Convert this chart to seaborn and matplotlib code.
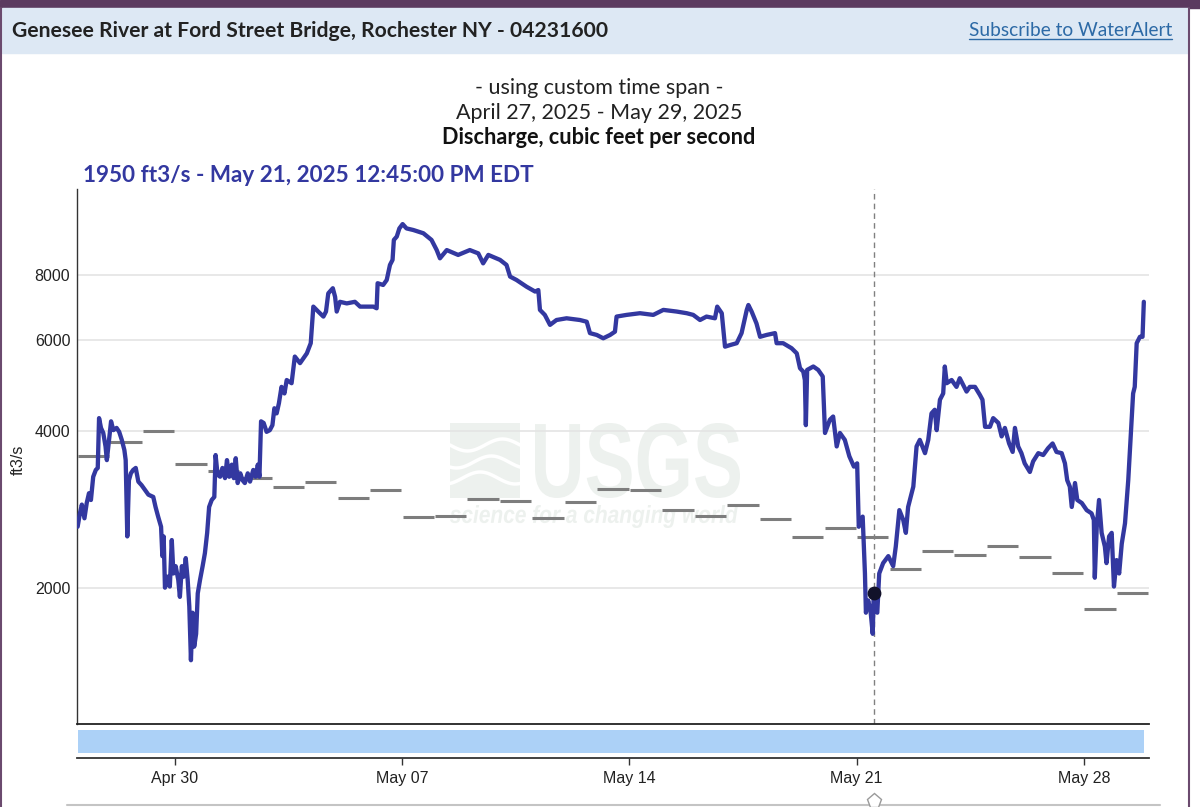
import numpy as np
import pandas as pd
import matplotlib
matplotlib.use("Agg")
import matplotlib.pyplot as plt
import matplotlib.dates as mdates
from matplotlib.patches import Rectangle, PathPatch
from matplotlib.lines import Line2D
from matplotlib.textpath import TextPath
from matplotlib.font_manager import FontProperties
from matplotlib.transforms import Affine2D, IdentityTransform
import seaborn as sns

# --- data ---
start = pd.Timestamp("2025-04-27 00:00")
end = pd.Timestamp("2025-05-30 00:00")

# instantaneous discharge: days after Apr 27 00:00 EDT, ft3/s
flow_days = [0.01, 0.08, 0.14, 0.22, 0.29, 0.36, 0.42, 0.49, 0.57, 0.63, 0.67, 0.73, 0.80, 0.87, 0.91, 0.95,
             1.04, 1.11, 1.21, 1.29, 1.37, 1.45, 1.49, 1.54, 1.59, 1.65, 1.72, 1.80, 1.88, 1.98,
             2.09, 2.19, 2.34, 2.41, 2.49, 2.58, 2.62, 2.66, 2.70, 2.78, 2.85, 2.91, 2.96,
             3.03, 3.11, 3.16, 3.22, 3.28, 3.34, 3.40, 3.45, 3.50, 3.55, 3.60, 3.66, 3.71, 3.78, 3.86, 3.93,
             4.00, 4.06, 4.14, 4.22, 4.26, 4.32, 4.40, 4.47, 4.55, 4.61, 4.68, 4.76, 4.82, 4.88, 4.94,
             5.02, 5.09, 5.16, 5.25, 5.32, 5.42, 5.49, 5.56, 5.61, 5.66, 5.74, 5.83, 5.93,
             6.01, 6.07, 6.14, 6.21, 6.29, 6.38, 6.45, 6.60, 6.70, 6.86,
             7.07, 7.19, 7.27, 7.42, 7.58, 7.66, 7.73, 7.87, 7.94, 7.99,
             8.09, 8.30, 8.55, 8.71, 8.91, 9.12, 9.22, 9.25, 9.42, 9.53, 9.63, 9.71, 9.75, 9.84, 9.92,
             10.02, 10.14, 10.35, 10.66, 10.91, 11.07, 11.17, 11.38, 11.73, 12.09, 12.35, 12.50, 12.66,
             13.02, 13.22, 13.33, 13.53, 13.84, 14.10, 14.20, 14.25, 14.40, 14.56, 14.76,
             15.07, 15.48, 15.69, 15.79, 16.00, 16.20, 16.41, 16.56, 16.61, 16.92,
             17.33, 17.74, 18.05, 18.46, 18.77, 18.97, 19.18, 19.38, 19.64, 19.71, 19.85, 19.95,
             20.10, 20.31, 20.46, 20.62, 20.67, 20.77, 20.92, 21.03, 21.23, 21.49, 21.54, 21.74,
             22.00, 22.16, 22.26, 22.36, 22.41, 22.44, 22.48, 22.67, 22.82, 22.96,
             23.03, 23.18, 23.28, 23.39, 23.49, 23.64, 23.78, 23.92,
             24.02, 24.07, 24.19, 24.26, 24.29, 24.36, 24.43, 24.50, 24.53, 24.64, 24.70, 24.82, 24.98,
             25.13, 25.21, 25.32, 25.44, 25.52, 25.59, 25.75, 25.85, 25.95,
             26.11, 26.21, 26.31, 26.41, 26.47, 26.57, 26.67, 26.72, 26.78, 26.93,
             27.08, 27.18, 27.39, 27.49, 27.65, 27.80, 27.88, 27.96,
             28.11, 28.21, 28.37, 28.47, 28.57, 28.70, 28.81, 28.88, 28.98,
             29.08, 29.18, 29.34, 29.44, 29.60, 29.75, 29.90,
             30.04, 30.16, 30.32, 30.42, 30.49, 30.57, 30.63, 30.73, 30.80, 30.94,
             31.09, 31.24, 31.31, 31.34, 31.40, 31.47, 31.55, 31.65, 31.70, 31.78, 31.86, 31.93,
             32.01, 32.09, 32.17, 32.27, 32.37, 32.44, 32.52, 32.57, 32.63, 32.73, 32.81, 32.85]
flow_cfs = [2620, 2780, 2890, 2720, 2910, 3040, 2950, 3270, 3370, 3400, 4240, 4060, 3970, 3740, 3520, 3710,
            4180, 4020, 4060, 3990, 3850, 3680, 3520, 2510, 3220, 3320, 3370, 3400, 3200, 3150,
            3080, 3020, 2990, 2860, 2740, 2620, 2300, 2510, 2000, 2100, 2010, 2470, 2130,
            2200, 2070, 1920, 2200, 2100, 2280, 2070, 1840, 1450, 1790, 1540, 1630, 1950, 2070, 2200, 2330,
            2550, 2860, 2950, 2990, 3600, 3300, 3270, 3400, 3250, 3520, 3270, 3450, 3250, 3550, 3180,
            3320, 3220, 3180, 3320, 3200, 3370, 3270, 3450, 3270, 4180, 4150, 3990, 4020,
            4110, 4430, 4330, 4530, 4870, 4730, 5020, 4950, 5570, 5410,
            5650, 5910, 6950, 6800, 6650, 6800, 7370, 7540, 7260, 6800,
            7100, 7050, 7100, 6950, 6950, 6950, 6900, 7710, 7650, 7820, 8360, 8550, 9340, 9480, 9830,
            10020, 9830, 9760, 9620, 9340, 8930, 8610, 8930, 8740, 8930, 8800, 8420, 8740,
            8550, 8360, 7940, 7820, 7590, 7430, 7480, 6850, 6700, 6410, 6550,
            6600, 6550, 6500, 6180, 6130, 6040, 6130, 6220, 6650, 6700,
            6750, 6700, 6850, 6800, 6750, 6700, 6550, 6650, 6600, 6950, 6750, 5820,
            5860, 5910, 6180, 6850, 7000, 6800, 6450, 6080, 6130, 6180, 5910, 5910,
            5780, 5650, 5290, 5210, 5020, 4110, 5250, 5330, 5250, 5100,
            3970, 4210, 4270, 3740, 3970, 3850, 3580, 3420,
            3470, 2620, 2740, 2130, 1790, 1890, 1810, 1630, 1950, 1790, 2130, 2230, 2300,
            2200, 2400, 2820, 2700, 2550, 2860, 3130, 3740, 3850,
            3630, 3850, 4330, 4400, 4020, 4600, 4730, 5330, 4950, 5020,
            4870, 5060, 4770, 4870, 4870, 4700, 4600, 4080,
            4080, 4240, 4150, 3910, 4060, 3790, 3650, 4060, 3740,
            3630, 3470, 3340, 3500, 3630, 3600, 3710,
            3790, 3650, 3630, 3470, 3220, 3130, 2860, 3180, 2950, 2910,
            2820, 2780, 2700, 2090, 2620, 2950, 2550, 2400, 2230, 2510, 2550, 2010,
            2260, 2130, 2430, 2660, 3220, 3850, 4730, 4870, 5910, 6080, 6080, 7100]

# daily median of daily mean discharge, one value per day from Apr 27
median_cfs = [3590, 3820, 4000, 3460, 3350, 3250, 3130, 3190, 2980, 3090, 2740,
              2750, 2960, 2940, 2720, 2930, 3100, 3080, 2820, 2750, 2890, 2710,
              2500, 2600, 2500, 2170, 2350, 2310, 2410, 2290, 2130, 1820, 1950]

marker_time = pd.Timestamp("2025-05-21 12:45")
marker_cfs = 1950

y_ticks = [2000, 4000, 6000, 8000]
x_ticks = ["2025-04-30", "2025-05-07", "2025-05-14", "2025-05-21", "2025-05-28"]

assert len(flow_days) == len(flow_cfs)

flow = pd.DataFrame({"time": start + pd.to_timedelta(flow_days, unit="D"), "cfs": flow_cfs})
day_start = start + pd.to_timedelta(np.arange(len(median_cfs)), unit="D")

# --- figure ---
sns.set_theme(style="white")
plt.rcParams["font.family"] = ["Liberation Sans", "DejaVu Sans"]
W, H = 1200, 807
fig = plt.figure(figsize=(W / 100, H / 100), dpi=100)

def fx(px):
    return px / W

def fy(py):
    return 1 - py / H

# page chrome
fig.patches.append(Rectangle((0, fy(8)), 1, 8 / H, transform=fig.transFigure, color="#5b3a5f", zorder=0))
fig.patches.append(Rectangle((fx(2), fy(53)), fx(1186), 45 / H, transform=fig.transFigure,
                             color="#dde8f4", zorder=0))
fig.add_artist(Line2D([fx(1), fx(1)], [0, fy(8)], color="#6b4a6e", lw=1.5))
fig.add_artist(Line2D([fx(1189), fx(1189)], [0, fy(8)], color="#6b4a6e", lw=1.5))

fig.text(fx(12), fy(31), "Genesee River at Ford Street Bridge, Rochester NY - 04231600",
         family="Lato", weight="bold", fontsize=15.2, color="#222222", va="center", ha="left")
sub = fig.text(fx(1172), fy(31), "Subscribe to WaterAlert", family="Lato", fontsize=13.8,
               color="#2d6aa6", va="center", ha="right")

fig.text(fx(599), fy(88), "- using custom time span -", family="Lato", fontsize=15.5,
         color="#222222", ha="center", va="center")
fig.text(fx(599), fy(113), "April 27, 2025 - May 29, 2025", family="Lato", fontsize=15.5,
         color="#222222", ha="center", va="center")
fig.text(fx(599), fy(138), "Discharge, cubic feet per second", family="Lato", weight="bold",
         fontsize=15.6, color="#111111", ha="center", va="center")
fig.text(fx(83), fy(175), "1950 ft3/s - May 21, 2025 12:45:00 PM EDT", family="Lato",
         weight="bold", fontsize=16.2, color="#3338a0", ha="left", va="center")

# main plot area
ax = fig.add_axes([fx(77.3), fy(724), fx(1148.7 - 77.3), (724 - 189.3) / H])
ax.set_yscale("log")
ax.set_ylim(1093, 11690)
ax.set_xlim(start, end)

# USGS watermark, faint, behind data
wm = "#edf1ee"
def watermark(text, box, fp):
    tp = TextPath((0, 0), text, size=50, prop=fp)
    ext = tp.get_extents()
    x0, x1, ytop, ybot = box
    sx = (x1 - x0) / ext.width
    sy = (ybot - ytop) / ext.height
    tr = Affine2D().translate(-ext.x0, -ext.y0).scale(sx, sy).translate(x0, H - ybot)
    ax.add_patch(PathPatch(tr.transform_path(tp), color=wm, lw=0, transform=IdentityTransform(), zorder=0.2))

watermark("USGS", (535, 740, 423, 498), FontProperties(family="Liberation Sans", weight="bold"))
watermark("science for a changing world", (450, 738, 505, 528),
          FontProperties(family="Liberation Sans", weight="bold", style="italic"))
ax.add_patch(Rectangle((450, H - 498), 70, 75, transform=IdentityTransform(), color=wm, lw=0, zorder=0.2))
wx = np.linspace(450, 520, 40)
for k, base in enumerate([445, 462, 478]):
    ax.plot(wx, H - (base + 6 * np.sin((wx - 450) / 70 * 2 * np.pi + k)), color="white", lw=2.5,
            transform=IdentityTransform(), zorder=0.3)

ax.yaxis.grid(True, color="#e4e4e4", lw=1.2, zorder=0.1)
ax.set_axisbelow(True)

for d0, m in zip(day_start, median_cfs):
    ax.hlines(m, d0 + pd.Timedelta(hours=0.4), d0 + pd.Timedelta(hours=23.6), color="#7d7d7d", lw=2.2, zorder=2)

sns.lineplot(data=flow, x="time", y="cfs", ax=ax, color="#3338a0", lw=3.1, estimator=None, zorder=3)
ax.axvline(marker_time, color="#808080", lw=1, ls=(0, (4, 3)), zorder=2.5)
ax.scatter([marker_time], [marker_cfs], s=80, color="#12122a", zorder=4)

ax.set_yticks(y_ticks)
ax.set_yticklabels([str(v) for v in y_ticks])
ax.yaxis.set_minor_locator(matplotlib.ticker.NullLocator())
ax.tick_params(axis="y", length=0, pad=5, labelsize=11.5, labelcolor="#222222")
ax.tick_params(axis="x", bottom=False, labelbottom=False)
ax.set_xlabel("")
ax.set_ylabel("")
for s in ["top", "right"]:
    ax.spines[s].set_visible(False)
ax.spines["left"].set_color("#333333")
ax.spines["bottom"].set_color("#222222")
ax.spines["left"].set_linewidth(1)
ax.spines["bottom"].set_linewidth(1.3)
fig.text(fx(18), fy(460), "ft3/s", rotation=90, fontsize=11.5, color="#222222", ha="center", va="center")

# navigator strip and time axis
ax2 = fig.add_axes([fx(77.3), fy(758.3), fx(1148.7 - 77.3), (758.3 - 724) / H])
ax2.set_xlim(start, end)
ax2.set_ylim(0, 1)
ax2.axvspan(flow["time"].iloc[0], flow["time"].iloc[-1], ymin=0.165, ymax=0.825, color="#acd1f7", lw=0)
ax2.set_yticks([])
ax2.set_xticks(pd.to_datetime(x_ticks))
ax2.xaxis.set_major_formatter(mdates.DateFormatter("%b %d"))
ax2.tick_params(axis="x", bottom=True, direction="out", length=5, width=1, color="#333333",
                pad=4, labelsize=11.5, labelcolor="#222222")
for s in ["top", "right", "left"]:
    ax2.spines[s].set_visible(False)
ax2.spines["bottom"].set_color("#333333")
ax2.spines["bottom"].set_linewidth(1.3)
ax2.set_facecolor("none")

# slider track at bottom
fig.add_artist(Line2D([fx(67), fx(1160)], [fy(805), fy(805)], color="#c4c4c4", lw=1.5))
fig.add_artist(Line2D([fx(873.8)], [fy(801)], marker="p", ms=11, mfc="white", mec="#9a9a9a", mew=1))

# underline the link
fig.canvas.draw()
bb = sub.get_window_extent(fig.canvas.get_renderer())
fig.add_artist(Line2D([bb.x0 / W, bb.x1 / W], [(bb.y0 + 1) / H] * 2, color="#2d6aa6", lw=1))

fig.savefig("out.png", dpi=100)
